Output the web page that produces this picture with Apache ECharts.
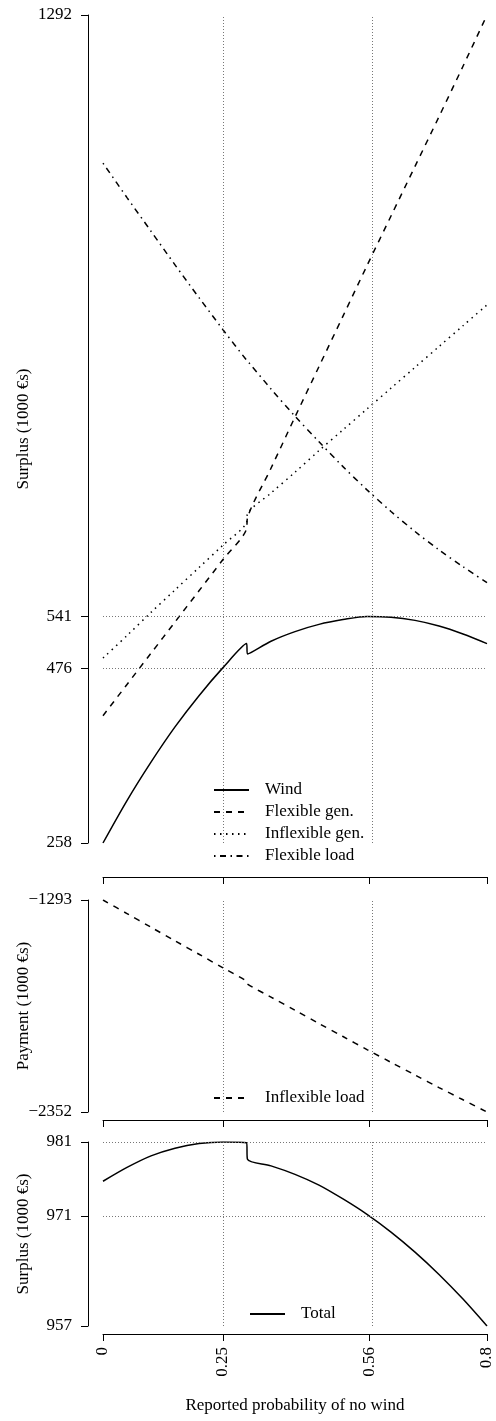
<!DOCTYPE html>
<html>
<head>
<meta charset="utf-8">
<script src="https://cdn.jsdelivr.net/npm/echarts@6/dist/echarts.min.js"></script>
<style>
  html, body { margin: 0; padding: 0; background: #fff; }
  #chart { width: 496px; height: 1421px; }
</style>
</head>
<body>
<div id="chart"></div>
<script>
// reported probability of no wind (0.299 / 0.301 bracket the jump)
const xs = [0, 0.05, 0.10, 0.15, 0.20, 0.25, 0.299, 0.301, 0.35, 0.40, 0.45, 0.50, 0.55, 0.60, 0.65, 0.70, 0.75, 0.80];

// surplus, 1000 €s
const wind = [258, 311, 359, 403, 442, 477, 507, 494, 510, 522, 531, 537, 541, 540, 536, 529, 519, 507];
const flexGen = [417, 456, 495, 534, 573, 612, 650, 664, 726, 790, 853, 916, 979, 1041, 1103, 1165, 1228, 1292];
const inflexGen = [489, 517, 546, 574, 602, 630, 658, 669, 695, 721, 748, 774, 800, 826, 852, 878, 904, 930];
const flexLoad = [1107, 1064, 1022, 980, 939, 899, 861, 860, 825, 791, 759, 728, 699, 672, 647, 624, 603, 583];
// payment, 1000 €s
const inflexLoad = [-1293, -1361, -1429, -1497, -1564, -1632, -1698, -1713, -1778, -1844, -1910, -1975, -2040, -2104, -2167, -2230, -2291, -2352];
// total surplus, 1000 €s
const total = [975.7, 977.5, 979.0, 980.0, 980.6, 980.8, 980.7, 978.55, 977.7, 976.6, 975.2, 973.4, 971.4, 969.1, 966.5, 963.6, 960.4, 956.9];

// ticks and reference lines
const xTicks = [0, 0.25, 0.555, 0.8];
const xTickLabels = ['0', '0.25', '0.56', '0.8'];
const vLines = [0.25, 0.555];

const topTicks = [258, 476, 541, 1292];
const topTickLabels = ['258', '476', '541', '1292'];
const topHLines = [476, 541];

const payTicks = [-2352, -1293];
const payTickLabels = ['\u22122352', '\u22121293'];

const totalTicks = [956.9, 971.2, 980.8];
const totalTickLabels = ['957', '971', '981'];
const totalHLines = [971.2, 980.8];

const FONT = 'Liberation Serif';
const FS = 17;

const pairs = (arr) => xs.map((x, i) => [x, arr[i]]);

const refLines = (vs, hs) => ({
  silent: true,
  symbol: ['none', 'none'],
  label: { show: false },
  emphasis: { disabled: true },
  lineStyle: { type: [1, 2], color: '#777', width: 1 },
  data: vs.map(v => ({ xAxis: v })).concat(hs.map(v => ({ yAxis: v })))
});

const xAxisFor = (grid, offset, withLabels) => ({
  type: 'value',
  gridIndex: grid,
  min: 0,
  max: 0.8,
  offset: offset,
  axisLine: { show: true, onZero: false, lineStyle: { color: '#000', width: 1 } },
  axisTick: { show: true, length: 7, customValues: xTicks, lineStyle: { color: '#000' } },
  axisLabel: withLabels ? {
    show: true,
    customValues: xTicks,
    rotate: 90,
    margin: 13,
    fontFamily: FONT,
    fontSize: FS,
    color: '#000',
    formatter: v => xTickLabels[xTicks.indexOf(v)]
  } : { show: false },
  splitLine: { show: false },
  name: withLabels ? 'Reported probability of no wind' : '',
  nameLocation: 'middle',
  nameGap: 63,
  nameMoveOverlap: false,
  nameTextStyle: { fontFamily: FONT, fontSize: FS, color: '#000' }
});

const yAxisFor = (grid, min, max, ticks, labels, title) => ({
  type: 'value',
  gridIndex: grid,
  min: min,
  max: max,
  offset: 15,
  axisLine: { show: true, onZero: false, lineStyle: { color: '#000', width: 1 } },
  axisTick: { show: true, length: 7, customValues: ticks, lineStyle: { color: '#000' } },
  axisLabel: {
    show: true,
    customValues: ticks,
    margin: 16,
    fontFamily: FONT,
    fontSize: FS,
    color: '#000',
    formatter: v => labels[ticks.indexOf(v)]
  },
  splitLine: { show: false },
  name: title,
  nameLocation: 'middle',
  nameRotate: 90,
  nameGap: 56,
  nameMoveOverlap: false,
  nameTextStyle: { fontFamily: FONT, fontSize: FS, color: '#000' }
});

const lineSeries = (name, arr, grid, dash, extra) => Object.assign({
  name: name,
  type: 'line',
  xAxisIndex: grid,
  yAxisIndex: grid,
  data: pairs(arr),
  symbol: 'none',
  smooth: 0.3,
  lineStyle: { color: '#000', width: 1.5, type: dash },
  itemStyle: { color: '#000' },
  emphasis: { disabled: true },
  z: 3
}, extra || {});

const legendText = { fontFamily: FONT, fontSize: FS, color: '#000', lineHeight: 20, padding: [0, 0, 0, 11] };
const legendBase = {
  selectedMode: false,
  padding: 0,
  itemWidth: 35,
  itemHeight: 10,
  itemStyle: { opacity: 0 },
  textStyle: legendText
};

const option = {
  animation: false,
  backgroundColor: '#fff',
  grid: [
    { left: 103, width: 384, top: 15, height: 828, outerBoundsMode: 'none' },
    { left: 103, width: 384, top: 900, height: 212, outerBoundsMode: 'none' },
    { left: 103, width: 384, top: 1142, height: 184, outerBoundsMode: 'none' }
  ],
  xAxis: [
    xAxisFor(0, 34, false),
    xAxisFor(1, 8, false),
    xAxisFor(2, 8, true)
  ],
  yAxis: [
    yAxisFor(0, 258, 1292, topTicks, topTickLabels, 'Surplus (1000 €s)'),
    yAxisFor(1, -2352, -1293, payTicks, payTickLabels, 'Payment (1000 €s)'),
    yAxisFor(2, 956.9, 980.8, totalTicks, totalTickLabels, 'Surplus (1000 €s)')
  ],
  legend: [
    Object.assign({}, legendBase, {
      left: 213, top: 780, orient: 'vertical', itemGap: 2,
      data: ['Wind', 'Flexible gen.', 'Inflexible gen.', 'Flexible load']
    }),
    Object.assign({}, legendBase, {
      left: 213, top: 1088,
      data: ['Inflexible load']
    }),
    Object.assign({}, legendBase, {
      left: 249, top: 1304,
      data: ['Total']
    })
  ],
  series: [
    lineSeries('Wind', wind, 0, 'solid', { markLine: refLines(vLines, topHLines) }),
    lineSeries('Flexible gen.', flexGen, 0, [6, 6]),
    lineSeries('Inflexible gen.', inflexGen, 0, [1.5, 4.5]),
    lineSeries('Flexible load', flexLoad, 0, [1.5, 4.5, 6, 4.5]),
    lineSeries('Inflexible load', inflexLoad, 1, [6, 6], { markLine: refLines(vLines, []) }),
    lineSeries('Total', total, 2, 'solid', { markLine: refLines(vLines, totalHLines) })
  ]
};

const chart = echarts.init(document.getElementById('chart'));
chart.setOption(option);
</script>
</body>
</html>
